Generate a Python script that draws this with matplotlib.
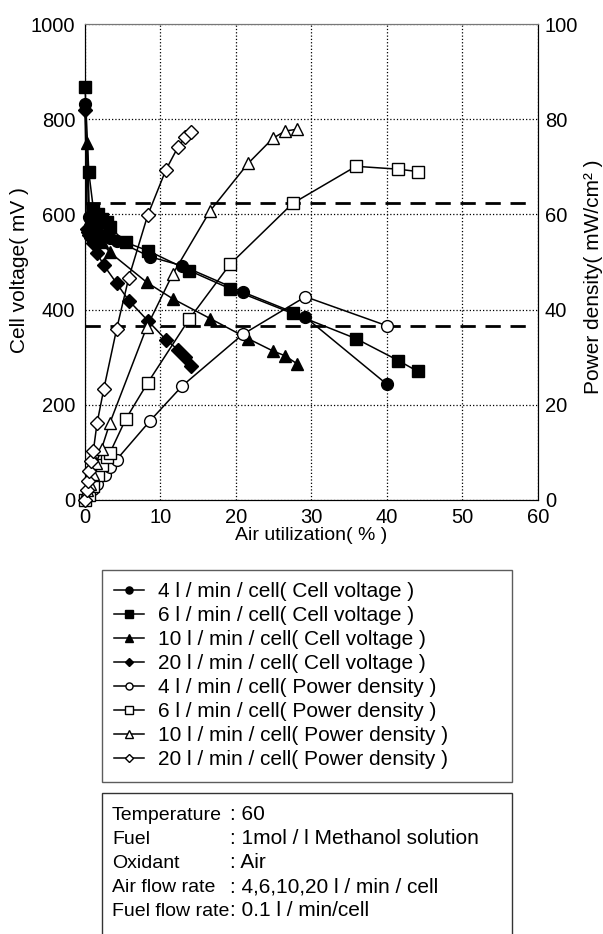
import matplotlib
matplotlib.use('Agg')
import matplotlib.pyplot as plt
from matplotlib.patches import Rectangle

plt.rcParams['font.family'] = ['Liberation Sans', 'DejaVu Sans']

# 空气利用率 (%) 与电池电压 (mV) / 功率密度 (mW/cm2)
x4 = [0, 0.5, 1.0, 1.6, 2.6, 3.3, 4.2, 8.6, 12.9, 20.9, 29.2, 40.0]
v4 = [832, 595, 578, 566, 556, 550, 545, 511, 492, 437, 384, 243]
p4 = [0, 1.1, 2.2, 3.4, 5.3, 6.9, 8.5, 16.6, 24.0, 34.8, 42.7, 36.6]

x6 = [0, 0.5, 1.1, 1.7, 2.2, 2.9, 3.3, 5.4, 8.3, 13.8, 19.2, 27.5, 35.9, 41.5, 44.1]
v6 = [867, 689, 612, 600, 590, 585, 573, 541, 524, 482, 444, 392, 339, 293, 270]
p6 = [0, 1.0, 3.0, 5.3, 7.4, 9.0, 9.9, 17.0, 24.6, 38.0, 49.5, 62.3, 70.1, 69.5, 69.0]

x10 = [0.3, 0.6, 1.0, 1.5, 2.2, 3.3, 8.2, 11.6, 16.6, 21.6, 24.9, 26.5, 28.1]
v10 = [749, 590, 570, 556, 542, 520, 457, 423, 381, 339, 313, 303, 286]
p10 = [2.0, 3.4, 5.5, 7.8, 10.8, 16.2, 36.4, 47.4, 60.8, 70.7, 76.0, 77.5, 77.9]

x20 = [0, 0.3, 0.4, 0.5, 0.8, 1.1, 1.6, 2.5, 4.2, 5.8, 8.3, 10.7, 12.3, 13.3, 14.0]
v20 = [819, 570, 562, 556, 550, 540, 518, 493, 455, 419, 377, 337, 316, 300, 282]
p20 = [0, 2.1, 4.0, 6.1, 8.2, 10.3, 16.2, 23.4, 36.0, 46.7, 59.8, 69.3, 74.1, 76.2, 77.3]

flows = ['4', '6', '10', '20']
markers = ['o', 's', '^', 'D']
msizes = [8.5, 8.5, 9, 7]
ref_levels = [623, 366]

cond_labels = ['Temperature', 'Fuel', 'Oxidant', 'Air flow rate', 'Fuel flow rate']
cond_values = [': 60', ': 1mol / l Methanol solution', ': Air',
               ': 4,6,10,20 l / min / cell', ': 0.1 l / min/cell']

fig = plt.figure(figsize=(6.03, 9.34), dpi=100)
ax = fig.add_axes([0.141, 0.4647, 0.751, 0.5096])
ax2 = ax.twinx()

xs = [x4, x6, x10, x20]
vs = [v4, v6, v10, v20]
ps = [p4, p6, p10, p20]

handles = []
for i in range(4):
    h, = ax.plot(xs[i], vs[i], marker=markers[i], ms=msizes[i], color='black',
                 mfc='black', mec='black', lw=1.1, clip_on=False, zorder=3,
                 label=flows[i] + ' l / min / cell( Cell voltage )')
    handles.append(h)
for i in range(4):
    h, = ax2.plot(xs[i], ps[i], marker=markers[i], ms=msizes[i], color='black',
                  mfc='white', mec='black', mew=1.0, lw=1.1, clip_on=False, zorder=3,
                  label=flows[i] + ' l / min / cell( Power density )')
    handles.append(h)

for lev in ref_levels:
    ax.axhline(lev, xmin=0, xmax=0.975, color='black', lw=2.0,
               dashes=(5.5, 3.5), zorder=2)

ax.set_xlim(0, 60)
ax.set_ylim(0, 1000)
ax2.set_ylim(0, 100)
ax.set_xticks(range(0, 61, 10))
ax.set_yticks(range(0, 1001, 200))
ax2.set_yticks(range(0, 101, 20))
ax.grid(True, linestyle=':', color='black', lw=0.9)
ax.tick_params(length=0, labelsize=14.5)
ax.tick_params(axis='y', pad=7)
ax.tick_params(axis='x', pad=6)
ax2.tick_params(length=0, labelsize=14.5, pad=5)

for a in (ax, ax2):
    a.spines['top'].set_color('#777777')
    a.spines['left'].set_color('black')
    a.spines['right'].set_color('black')
    a.spines['bottom'].set_color('black')

ax.set_xlabel('Air utilization( % )', fontsize=14, labelpad=0)
ax.set_ylabel('Cell voltage( mV )', fontsize=15, labelpad=1)
ax2.set_ylabel('Power density( mW/cm² )', fontsize=15, labelpad=4)
ax.yaxis.label.set_y(0.483)
ax2.yaxis.label.set_y(0.468)

leg = fig.legend(handles=handles, loc='upper left',
                 bbox_to_anchor=(0.169, 0.165, 0.680, 0.225), mode='expand',
                 fontsize=15, frameon=True, fancybox=False, borderaxespad=0,
                 borderpad=0.6, labelspacing=0.24, handlelength=1.4,
                 handletextpad=0.7, markerscale=0.6)
leg.get_frame().set_edgecolor('#333333')
leg.get_frame().set_linewidth(1.0)

# 条件说明框
fig.patches.append(Rectangle((102 / 603, -0.05), 410 / 603, 0.05 + 1 - 793 / 934,
                             transform=fig.transFigure, fill=False,
                             edgecolor='#333333', lw=1.0))
for k in range(len(cond_labels)):
    yy = 1 - (815 + 24 * k) / 934
    fig.text(112 / 603, yy, cond_labels[k], fontsize=14, va='center')
    fig.text(230 / 603, yy, cond_values[k], fontsize=15, va='center')

fig.savefig('out.png', dpi=100)
